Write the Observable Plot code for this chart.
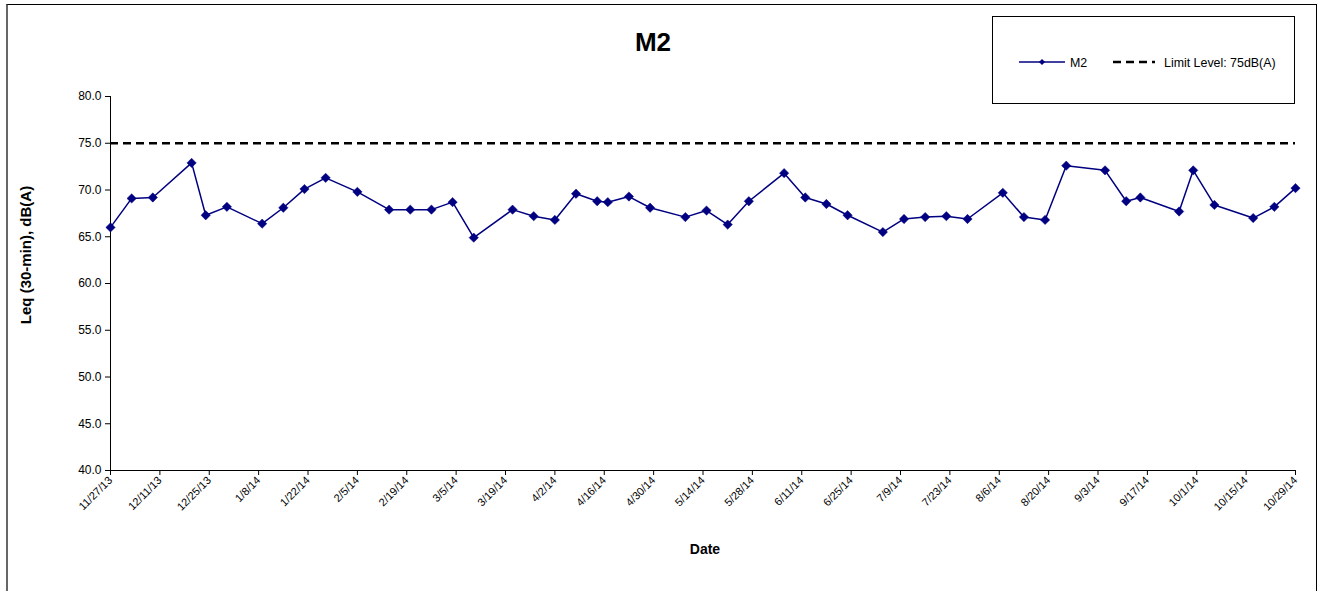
<!DOCTYPE html>
<html>
<head>
<meta charset="utf-8">
<script src="https://cdn.jsdelivr.net/npm/d3@7"></script>
<script src="https://cdn.jsdelivr.net/npm/@observablehq/plot@0.6"></script>
<style>
  html, body { margin: 0; padding: 0; background: #fff; }
  #wrap { position: relative; width: 1320px; height: 591px; overflow: hidden; font-family: "Liberation Sans", Arial, sans-serif; }
  #frame { position: absolute; left: 6px; top: 4px; width: 1308px; height: 600px; border-top: 1px solid #000; border-right: 1px solid #000; border-left: 2px solid #666; }
  #chart { position: absolute; left: 0; top: 0; }
  .title { position: absolute; left: 603px; width: 100px; top: 27px; text-align: center; font-weight: bold; font-size: 26px; color: #000; }
  .xlabel { position: absolute; left: 655px; width: 100px; top: 541px; text-align: center; font-weight: bold; font-size: 14px; color: #000; }
  .ylabel { position: absolute; left: 25px; top: 255px; transform: translate(-50%, -50%) rotate(-90deg); white-space: nowrap; font-weight: bold; font-size: 15px; color: #000; }
  #legend { position: absolute; left: 992px; top: 16px; width: 301px; height: 86px; border: 1px solid #000; background: #fff; }
  #legend svg { position: absolute; left: 0; top: 0; }
</style>
</head>
<body>
<div id="wrap">
  <div id="frame"></div>
  <div id="chart"></div>
  <div class="title">M2</div>
  <div class="xlabel">Date</div>
  <div class="ylabel">Leq (30-min), dB(A)</div>
  <div id="legend"></div>
</div>
<script>
const dates = [
  "2013-11-27","2013-12-03","2013-12-09","2013-12-20","2013-12-24","2013-12-30",
  "2014-01-09","2014-01-15","2014-01-21","2014-01-27","2014-02-05","2014-02-14",
  "2014-02-20","2014-02-26","2014-03-04","2014-03-10","2014-03-21","2014-03-27",
  "2014-04-02","2014-04-08","2014-04-14","2014-04-17","2014-04-23","2014-04-29",
  "2014-05-09","2014-05-15","2014-05-21","2014-05-27","2014-06-06","2014-06-12",
  "2014-06-18","2014-06-24","2014-07-04","2014-07-10","2014-07-16","2014-07-22",
  "2014-07-28","2014-08-07","2014-08-13","2014-08-19","2014-08-25","2014-09-05",
  "2014-09-11","2014-09-15","2014-09-26","2014-09-30","2014-10-06","2014-10-17",
  "2014-10-23","2014-10-29"
];
const leqM2 = [
  66.0, 69.1, 69.2, 72.9, 67.3, 68.2,
  66.4, 68.1, 70.1, 71.3, 69.8, 67.9,
  67.9, 67.9, 68.7, 64.9, 67.9, 67.2,
  66.8, 69.6, 68.8, 68.7, 69.3, 68.1,
  67.1, 67.8, 66.3, 68.8, 71.8, 69.2,
  68.5, 67.3, 65.5, 66.9, 67.1, 67.2,
  66.9, 69.7, 67.1, 66.8, 72.6, 72.1,
  68.8, 69.2, 67.7, 72.1, 68.4, 67.0,
  68.2, 70.2
];
const limitLevel = 75;

// Axis ticks
const xTicks = [
  "2013-11-27","2013-12-11","2013-12-25","2014-01-08","2014-01-22","2014-02-05",
  "2014-02-19","2014-03-05","2014-03-19","2014-04-02","2014-04-16","2014-04-30",
  "2014-05-14","2014-05-28","2014-06-11","2014-06-25","2014-07-09","2014-07-23",
  "2014-08-06","2014-08-20","2014-09-03","2014-09-17","2014-10-01","2014-10-15",
  "2014-10-29"
];
const xTickLabels = [
  "11/27/13","12/11/13","12/25/13","1/8/14","1/22/14","2/5/14",
  "2/19/14","3/5/14","3/19/14","4/2/14","4/16/14","4/30/14",
  "5/14/14","5/28/14","6/11/14","6/25/14","7/9/14","7/23/14",
  "8/6/14","8/20/14","9/3/14","9/17/14","10/1/14","10/15/14",
  "10/29/14"
];
const yTicks = [40, 45, 50, 55, 60, 65, 70, 75, 80];
const yTickLabels = ["40.0","45.0","50.0","55.0","60.0","65.0","70.0","75.0","80.0"];

const data = dates.map((d, i) => ({date: new Date(d), value: leqM2[i]}));
const xTickDates = xTicks.map(d => new Date(d));
const xLabelMap = new Map(xTickDates.map((d, i) => [+d, xTickLabels[i]]));
const yLabelMap = new Map(yTicks.map((v, i) => [v, yTickLabels[i]]));
const xDomain = [xTickDates[0], xTickDates[xTickDates.length - 1]];

const navy = "#000080";

const chart = Plot.plot({
  width: 1320,
  height: 591,
  marginLeft: 110,
  marginRight: 25,
  marginTop: 96,
  marginBottom: 121,
  style: {fontFamily: "'Liberation Sans', Arial, sans-serif", background: "transparent", color: "#000", overflow: "visible"},
  x: {type: "utc", domain: xDomain},
  y: {domain: [40, 80]},
  marks: [
    Plot.ruleY([limitLevel], {stroke: "#000", strokeWidth: 2.5, strokeDasharray: "8,5"}),
    Plot.axisY({ticks: yTicks, tickFormat: v => yLabelMap.get(v), tickSize: 5, tickPadding: 4, fontSize: 12, label: null, stroke: "#000"}),
    Plot.axisX({ticks: xTickDates, tickFormat: d => xLabelMap.get(+d), tickSize: 5, tickRotate: -45, tickPadding: 3, fontSize: 11, label: null, stroke: "#000"}),
    Plot.ruleX([xDomain[0]], {stroke: "#000", strokeWidth: 1}),
    Plot.ruleY([40], {stroke: "#000", strokeWidth: 1}),
    Plot.line(data, {x: "date", y: "value", stroke: navy, strokeWidth: 1.5}),
    Plot.dot(data, {x: "date", y: "value", symbol: "diamond2", r: 4.2, fill: navy, stroke: navy, strokeWidth: 0.5})
  ]
});
document.getElementById("chart").appendChild(chart);

// Legend
const lg = d3.select("#legend").append("svg").attr("width", 301).attr("height", 86);
lg.append("line").attr("x1", 26).attr("x2", 72).attr("y1", 45).attr("y2", 45).attr("stroke", navy).attr("stroke-width", 1.5);
lg.append("path").attr("d", d3.symbol(d3.symbolDiamond2, 24)()).attr("transform", "translate(49,45)").attr("fill", navy);
lg.append("text").attr("x", 77).attr("y", 49.5).attr("font-size", 12.4).attr("font-family", "'Liberation Sans', Arial, sans-serif").text("M2");
lg.append("line").attr("x1", 120).attr("x2", 162).attr("y1", 45).attr("y2", 45).attr("stroke", "#000").attr("stroke-width", 2.5).attr("stroke-dasharray", "8,5");
lg.append("text").attr("x", 171).attr("y", 49.5).attr("font-size", 12.4).attr("font-family", "'Liberation Sans', Arial, sans-serif").text("Limit Level: 75dB(A)");
</script>
</body>
</html>
